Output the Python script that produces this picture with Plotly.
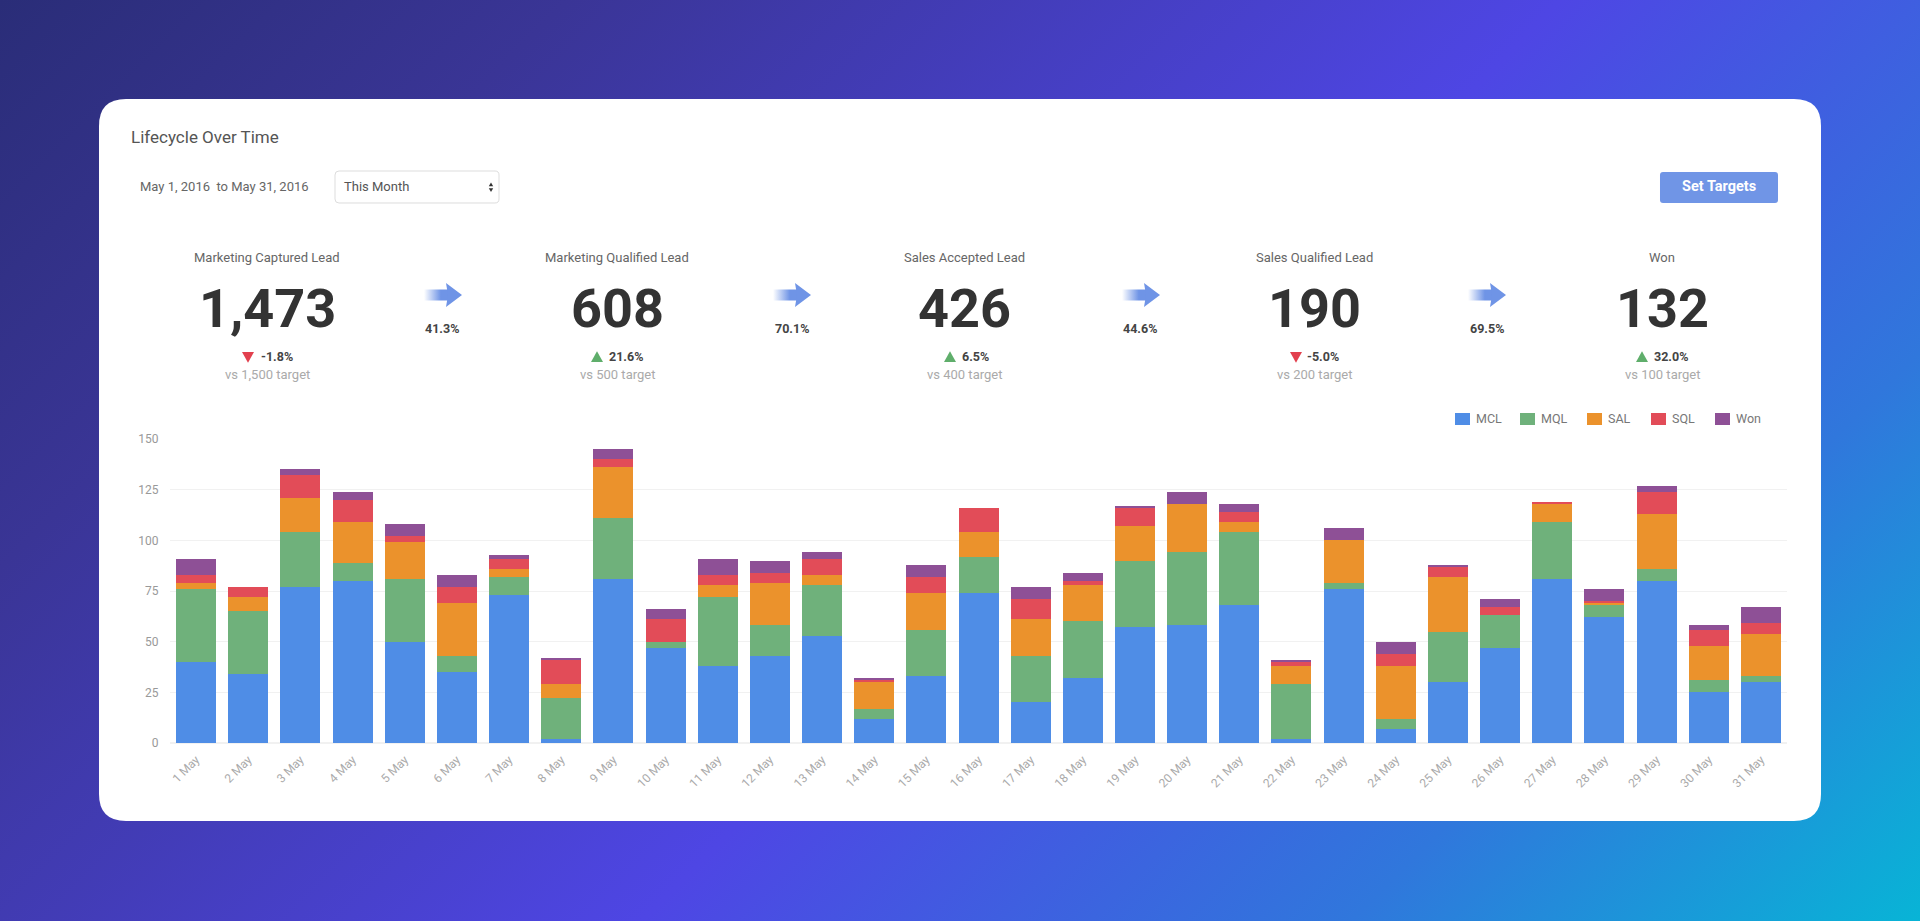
import base64
import plotly.graph_objects as go

W = 1920
H = 921

days = [str(i) + " May" for i in range(1, 32)]

#-------------------------values--------------------------------------------------------------------
mcl = [40, 34, 77, 80, 50, 35, 73, 2, 81, 47, 38, 43, 53, 12, 33, 74, 20, 32, 57, 58, 68, 2, 76, 7, 30, 47, 81, 62, 80, 25, 30]
mql = [36, 31, 27, 9, 31, 8, 9, 20, 30, 3, 34, 15, 25, 5, 23, 18, 23, 28, 33, 36, 36, 27, 3, 5, 25, 16, 28, 6, 6, 6, 3]
sal = [3, 7, 17, 20, 18, 26, 4, 7, 25, 0, 6, 21, 5, 13, 18, 12, 18, 18, 17, 24, 5, 9, 21, 26, 27, 0, 9, 1, 27, 17, 21]
sql = [4, 5, 11, 11, 3, 8, 5, 12, 4, 11, 5, 5, 8, 1, 8, 12, 10, 2, 9, 0, 5, 2, 0, 6, 5, 4, 1, 1, 11, 8, 5]
won = [8, 0, 3, 4, 6, 6, 2, 1, 5, 5, 8, 6, 3, 1, 6, 0, 6, 4, 1, 6, 4, 1, 6, 6, 1, 4, 0, 6, 3, 2, 8]

series_names = ["MCL", "MQL", "SAL", "SQL", "Won"]
series_values = [mcl, mql, sal, sql, won]
series_colors = ["#4f8de6", "#6fb17b", "#eb922c", "#e24c58", "#8e5096"]

y_ticks = [0, 25, 50, 75, 100, 125, 150]

#-------------------------KPI row------------------------------------------------------------------
kpi_titles = ["Marketing Captured Lead", "Marketing Qualified Lead", "Sales Accepted Lead", "Sales Qualified Lead", "Won"]
kpi_numbers = ["1,473", "608", "426", "190", "132"]
kpi_deltas = ["-1.8%", "21.6%", "6.5%", "-5.0%", "32.0%"]
kpi_targets = ["vs 1,500 target", "vs 500 target", "vs 400 target", "vs 200 target", "vs 100 target"]
kpi_rates = ["41.3%", "70.1%", "44.6%", "69.5%"]

kpi_x = [267, 617, 965, 1314, 1662]
delta_tri_x = [248, 597, 950, 1296, 1642]
delta_text_x = [277, 626, 975, 1323, 1671]
rate_x = [442, 792, 1140, 1487]
arrow_tip_x = [462, 811, 1160, 1506]
legend_swatch_x = [1455, 1520, 1587, 1651, 1715]

FONT = "Roboto"


def px(x, y):
    # page pixels to paper coordinates, the margins are all 0
    return x / W, 1 - y / H


def rounded(x0, y0, x1, y1, r):
    # svg path of a rounded rectangle in paper coordinates
    pts = [("M", x0 + r, y0), ("L", x1 - r, y0), ("Q", x1, y0, x1, y0 + r), ("L", x1, y1 - r),
           ("Q", x1, y1, x1 - r, y1), ("L", x0 + r, y1), ("Q", x0, y1, x0, y1 - r), ("L", x0, y0 + r),
           ("Q", x0, y0, x0 + r, y0)]
    out = ""
    for p in pts:
        out += p[0]
        coords = p[1:]
        for i in range(0, len(coords), 2):
            a, b = px(coords[i], coords[i + 1])
            out += "%.5f,%.5f " % (a, b)
    return out + "Z"


def triangle(cx, cy, up, size=6):
    d = -1 if up else 1
    a = px(cx - size, cy - d * size * 0.85)
    b = px(cx + size, cy - d * size * 0.85)
    c = px(cx, cy + d * size * 0.95)
    return "M%.5f,%.5f L%.5f,%.5f L%.5f,%.5f Z" % (a + b + c)


def svg_uri(svg):
    return "data:image/svg+xml;base64," + base64.b64encode(svg.encode()).decode()


def label(x, y, text, size=13, color="#666666", anchor="center", weight=400):
    return dict(x=x / W, y=1 - y / H, xref="paper", yref="paper", text=text, showarrow=False,
                xanchor=anchor, yanchor="middle", borderpad=0, borderwidth=0,
                font=dict(family=FONT, size=size, color=color, weight=weight))


#-------------------------background and arrows as svg images---------------------------------------
background = ('<svg xmlns="http://www.w3.org/2000/svg" width="1920" height="921">'
              '<defs><linearGradient id="g" gradientUnits="userSpaceOnUse" x1="0" y1="0" x2="1420" y2="1420">'
              '<stop offset="0" stop-color="#2a2d78"/><stop offset="0.2" stop-color="#3a3596"/>'
              '<stop offset="0.55" stop-color="#4e46e4"/><stop offset="0.8" stop-color="#3077dc"/>'
              '<stop offset="1" stop-color="#08b4d6"/></linearGradient></defs>'
              '<rect width="1920" height="921" fill="url(#g)"/></svg>')

arrow = ('<svg xmlns="http://www.w3.org/2000/svg" width="38" height="24" viewBox="0 0 38 24">'
         '<defs><linearGradient id="a" x1="0" y1="0" x2="1" y2="0">'
         '<stop offset="0" stop-color="#6f94e6" stop-opacity="0"/><stop offset="0.7" stop-color="#6f94e6"/>'
         '</linearGradient></defs>'
         '<rect x="0" y="6.5" width="24" height="11" fill="url(#a)"/>'
         '<path d="M22 0 L38 12 L22 24 L24 12 Z" fill="#6f94e6"/></svg>')

images = [dict(source=svg_uri(background), xref="paper", yref="paper", x=0, y=1, sizex=1, sizey=1,
               sizing="stretch", xanchor="left", yanchor="top", layer="below")]
for tip in arrow_tip_x:
    x0, y0 = px(tip - 38, 283)
    # layer above, below would end up under the white card
    images.append(dict(source=svg_uri(arrow), xref="paper", yref="paper", x=x0, y=y0, sizex=38 / W, sizey=24 / H,
                       sizing="stretch", xanchor="left", yanchor="top", layer="above"))

#-------------------------card, dropdown, button, triangles-----------------------------------------
shapes = [
    dict(type="path", xref="paper", yref="paper", layer="below", path=rounded(99, 99, 1821, 821, 27),
         fillcolor="#ffffff", line=dict(width=0)),
    dict(type="path", xref="paper", yref="paper", layer="below", path=rounded(335, 171, 499, 203, 4),
         fillcolor="#ffffff", line=dict(color="#dddddd", width=1)),
    dict(type="path", xref="paper", yref="paper", layer="below", path=rounded(1660, 172, 1778, 203, 3),
         fillcolor="#7095e6", line=dict(width=0)),
    dict(type="path", xref="paper", yref="paper", layer="below", path=triangle(491, 184.5, True, 2.2),
         fillcolor="#333333", line=dict(width=0)),
    dict(type="path", xref="paper", yref="paper", layer="below", path=triangle(491, 190, False, 2.2),
         fillcolor="#333333", line=dict(width=0)),
]
for i in range(5):
    up = not kpi_deltas[i].startswith("-")
    shapes.append(dict(type="path", xref="paper", yref="paper", path=triangle(delta_tri_x[i], 357, up),
                       fillcolor="#5fae6b" if up else "#e2404e", line=dict(width=0)))

# the legend is drawn by hand, plotly keeps a wider gap between swatch and text
for i in range(5):
    x0, y0 = px(legend_swatch_x[i], 413)
    x1, y1 = px(legend_swatch_x[i] + 15, 425)
    shapes.append(dict(type="rect", xref="paper", yref="paper", x0=x0, x1=x1, y0=y0, y1=y1,
                       fillcolor=series_colors[i], line=dict(width=0)))

#-------------------------texts---------------------------------------------------------------------
annotations = [
    label(131, 137, "Lifecycle Over Time", size=17, color="#555555", anchor="left"),
    label(140, 187, "May 1, 2016  to May 31, 2016", size=13, color="#666666", anchor="left"),
    label(344, 187, "This Month", size=13, color="#555555", anchor="left"),
    label(1719, 187, "Set Targets", size=14.5, color="#ffffff", weight=700),
]
for i in range(5):
    annotations.append(label(kpi_x[i], 257, kpi_titles[i], size=13, color="#666666"))
    annotations.append(label(kpi_x[i], 309, kpi_numbers[i], size=54, color="#333333", weight=700))
    annotations.append(label(delta_text_x[i], 357, kpi_deltas[i], size=12.5, color="#444444", weight=700))
    annotations.append(label(kpi_x[i], 375, kpi_targets[i], size=13, color="#aaaaaa"))
for i in range(4):
    annotations.append(label(rate_x[i], 329, kpi_rates[i], size=12.5, color="#444444", weight=700))
for i in range(5):
    annotations.append(label(legend_swatch_x[i] + 21, 418, series_names[i], size=12.5, color="#777777", anchor="left"))

#-------------------------the chart-----------------------------------------------------------------
fig = go.Figure()
for name, values, color in zip(series_names, series_values, series_colors):
    fig.add_trace(go.Bar(x=days, y=values, name=name, marker=dict(color=color, line=dict(width=0))))

fig.update_layout(width=W, height=H,
                  margin=dict(l=0, r=0, t=0, b=0, pad=0, autoexpand=False),
                  paper_bgcolor="#ffffff",
                  plot_bgcolor="rgba(0,0,0,0)",
                  barmode="stack",
                  bargap=0.233,
                  showlegend=False,
                  images=images,
                  shapes=shapes,
                  annotations=annotations,
                  font=dict(family=FONT),
                  xaxis=dict(domain=[170 / W, 1787 / W], automargin=False, tickangle=-45, showgrid=False, showline=False,
                             zeroline=False, ticks="outside", ticklen=4, tickcolor="rgba(0,0,0,0)",
                             tickfont=dict(family=FONT, size=12, color="#aaaaaa")),
                  yaxis=dict(domain=[1 - 743 / H, 1 - 439 / H], automargin=False, range=[0, 150], tickvals=y_ticks,
                             showgrid=True, gridcolor="#f1f1f1", gridwidth=1, zeroline=True, zerolinecolor="#f1f1f1",
                             showline=False, ticks="outside", ticklen=8, tickcolor="rgba(0,0,0,0)",
                             tickfont=dict(family=FONT, size=12, color="#999999")))

fig.write_html("out.html", config=dict(displayModeBar=False),
               post_script="document.body.style.margin='0';document.documentElement.style.overflow='hidden';")
